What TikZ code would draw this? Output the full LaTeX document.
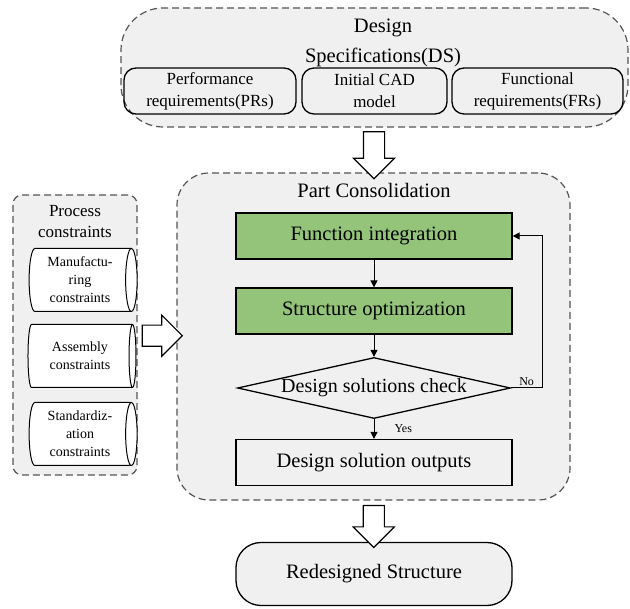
\documentclass[tikz,border=0pt]{standalone}
\usepackage{fontspec}
\setmainfont{Liberation Serif}
\usetikzlibrary{arrows.meta,calc,positioning,shapes.arrows,shapes.geometric}
\definecolor{PanelGray}{RGB}{240,240,240}
\definecolor{LeafGreen}{RGB}{147,196,122}
\definecolor{DashGray}{RGB}{85,85,85}
\tikzstyle{panel}  = [draw=DashGray,line width=1.2pt,dash pattern=on 7pt off 4pt,fill=PanelGray]
\tikzstyle{spec}   = [draw,line width=1.3pt,rounded corners=12pt,minimum height=46pt,inner sep=0pt,align=center,font=\fontsize{17}{22}\selectfont]
\tikzstyle{task}   = [draw,line width=1.3pt,minimum width=276pt,minimum height=46pt,font=\fontsize{20.5}{24}\selectfont]
\tikzstyle{drum}   = [cylinder,draw,fill=white,line width=1pt,aspect=0.25,minimum height=108pt,minimum width=63pt,inner sep=0pt,align=center,font=\fontsize{14}{18}\selectfont]
\tikzstyle{hollow} = [single arrow,draw,fill=white,line width=1.1pt,inner sep=10pt,single arrow head extend=10pt,single arrow tip angle=90]
\tikzstyle{flow}   = [-{Triangle[length=7pt,width=7pt]},line width=1pt]
\tikzstyle{small}  = [font=\fontsize{12}{14}\selectfont,inner sep=2pt]

\begin{document}
\begin{tikzpicture}[x=1pt,y=-1pt]
  \useasboundingbox (0,0) rectangle (630,609);

  % Design specifications
  \node[panel,rounded corners=42pt,minimum width=507pt,minimum height=119pt] (ds) at (374.5,67.5) {};
  \node[align=center,font=\fontsize{20.5}{24}\selectfont] (dstitle) at (383,43) {Design\\[6pt]Specifications(DS)};
  \node[spec,minimum width=172pt] (pr) at (210,91) {Performance\\requirements(PRs)};
  \node[spec,minimum width=145pt] (cad) at (374.5,91) {Initial CAD\\model};
  \node[spec,minimum width=171pt] (fr) at (537.5,91) {Functional\\requirements(FRs)};

  % Process constraints
  \node[panel,rounded corners=9pt,minimum width=124pt,minimum height=280pt] (proc) at (75,335) {};
  \node[align=center,font=\fontsize{17}{21}\selectfont] (proctitle) at (75,222) {Process\\constraints};
  \node[drum] (mfg) at (80,280) {Manufactu-\\ring\\constraints};
  \node[drum] (asm) at (80,356) {Assembly\\constraints};
  \node[drum] (std) at (80,434) {Standardiz-\\ation\\constraints};

  % Part consolidation
  \node[panel,rounded corners=32pt,minimum width=393pt,minimum height=327pt] (pc) at (373.5,336.5) {};
  \node[font=\fontsize{20.5}{24}\selectfont] (pctitle) at (374,190) {Part Consolidation};
  \node[task,fill=LeafGreen] (fi) at (374,236) {Function integration};
  \node[task,fill=LeafGreen] (so) at (374,311) {Structure optimization};
  \node[diamond,draw,fill=PanelGray,line width=1.3pt,minimum width=273pt,minimum height=61pt,inner sep=0pt] (chk) at (374,388) {};
  \node[font=\fontsize{20}{24}\selectfont] (chktext) at (chk) {Design solutions check};
  \node[task,fill=PanelGray] (out) at (374,462.5) {Design solution outputs};

  \draw[flow] (fi) -- (so);
  \draw[flow] (so) -- (chk);
  \draw[flow] (chk) -- node[small,right=18pt] {Yes} (out);
  \draw[flow] (chk.east) -- node[small,above] {No} ++(31,0) |- (fi.east);

  % Result
  \node[task,fill=PanelGray,rounded corners=25pt,minimum height=63pt] (red) at (374,574) {Redesigned Structure};

  % Hollow arrows
  \node[hollow,shape border rotate=270,minimum height=47pt] (toPC) at ($(ds.south)!0.5!(pc.north)$) {};
  \node[hollow,minimum height=40pt] (fromProc) at ($(proc.east)!0.5!(pc.west)$) {};
  \node[hollow,shape border rotate=270,minimum height=42pt] (toRed) at ($(pc.south)!0.5!(red.north)$) {};
\end{tikzpicture}
\end{document}
